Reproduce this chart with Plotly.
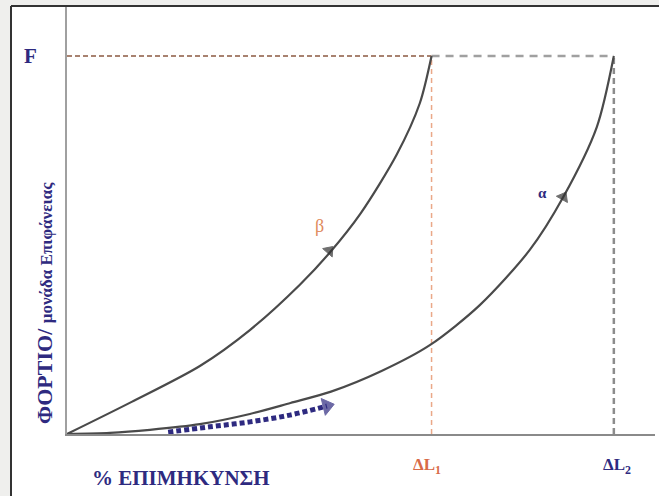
import plotly.graph_objects as go

# ---- data (abstract units: x = % elongation, y = load / F) ----
beta_x = [0, 11, 22.6, 31.1, 39.6, 44.7, 50, 56.1, 60.0, 62]
beta_y = [0, 0.085, 0.18, 0.275, 0.395, 0.48, 0.585, 0.74, 0.875, 1.0]

alpha_x = [0, 7.3, 14.1, 22.6, 31.1, 38.0, 44.9, 53.4, 61.7, 70.2, 78.7, 84.4, 90.1, 93]
alpha_y = [0, 0.003, 0.011, 0.026, 0.053, 0.082, 0.112, 0.166, 0.235, 0.341, 0.487, 0.627, 0.812, 1.0]

hint_x = [17.2, 24.3, 31.1, 37.9, 44.2]
hint_y = [0.005, 0.019, 0.032, 0.050, 0.074]

F_level = 1.0
dL1 = 62
dL2 = 93

beta_arrow_x = [43.2, 44.6]
beta_arrow_y = [0.46, 0.485]
alpha_arrow_x = [83.6, 84.4]
alpha_arrow_y = [0.605, 0.627]

NAVY = "#2e2a80"
ORANGE = "#e08a5c"
SERIF = "Liberation Serif, Times New Roman, serif"

fig = go.Figure()

# reference dashed lines
fig.add_trace(go.Scatter(x=[0, dL1], y=[F_level, F_level], mode="lines",
                         line=dict(color="#a88270", width=2, dash="5px,3px"),
                         hoverinfo="skip", showlegend=False))
fig.add_trace(go.Scatter(x=[dL1, dL2], y=[F_level, F_level], mode="lines",
                         line=dict(color="#a0a0a0", width=2.5, dash="8px,6px"),
                         hoverinfo="skip", showlegend=False))
fig.add_trace(go.Scatter(x=[dL1, dL1], y=[0, F_level], mode="lines",
                         line=dict(color="#eaa888", width=1.5, dash="5px,4px"),
                         hoverinfo="skip", showlegend=False))
fig.add_trace(go.Scatter(x=[dL2, dL2], y=[0, F_level], mode="lines",
                         line=dict(color="#8c8c8c", width=2.5, dash="6px,4px"),
                         hoverinfo="skip", showlegend=False))

# curves
fig.add_trace(go.Scatter(x=beta_x, y=beta_y, mode="lines", line_shape="spline",
                         line=dict(color="#4a4a4a", width=2.2, smoothing=0.8), showlegend=False))
fig.add_trace(go.Scatter(x=alpha_x, y=alpha_y, mode="lines", line_shape="spline",
                         line=dict(color="#4a4a4a", width=2.2, smoothing=0.8), showlegend=False))

# direction arrowheads on curves
for ax_, ay_ in [(beta_arrow_x, beta_arrow_y), (alpha_arrow_x, alpha_arrow_y)]:
    fig.add_trace(go.Scatter(x=ax_, y=ay_, mode="markers",
                             marker=dict(symbol="triangle-up", size=[0, 11], color="#333333",
                                         angleref="previous",
                                         line=dict(color="#333333", width=1)),
                             showlegend=False, hoverinfo="skip"))

# dotted navy hint arrow
fig.add_trace(go.Scatter(x=hint_x, y=hint_y, mode="lines", line_shape="spline",
                         line=dict(color=NAVY, width=5, dash="5px,3px"),
                         showlegend=False, hoverinfo="skip"))
fig.add_trace(go.Scatter(x=hint_x[-2:], y=hint_y[-2:], mode="markers",
                         marker=dict(symbol="triangle-up", size=[0, 15], color=NAVY,
                                     angleref="previous", line=dict(color=NAVY, width=1)),
                         showlegend=False, hoverinfo="skip"))

# labels
fig.add_annotation(xref="paper", yref="y", x=30/659, y=F_level, text="<b>F</b>", showarrow=False,
                   xanchor="center", yanchor="middle",
                   font=dict(family=SERIF, size=21, color=NAVY))
fig.add_annotation(x=43.0, y=0.55, text="β", showarrow=False,
                   xanchor="center", yanchor="middle",
                   font=dict(family=SERIF, size=18, color=ORANGE))
fig.add_annotation(x=80.8, y=0.638, text="<b>α</b>", showarrow=False,
                   xanchor="center", yanchor="middle",
                   font=dict(family=SERIF, size=15, color=NAVY))
fig.add_annotation(xref="x", yref="paper", x=dL1 - 0.8, y=1 - 466/496,
                   text="<b>ΔL<sub>1</sub></b>", showarrow=False,
                   xanchor="center", yanchor="middle",
                   font=dict(family=SERIF, size=17, color="#d86a48"))
fig.add_annotation(xref="x", yref="paper", x=dL2 + 0.5, y=1 - 466/496,
                   text="<b>ΔL<sub>2</sub></b>", showarrow=False,
                   xanchor="center", yanchor="middle",
                   font=dict(family=SERIF, size=17, color=NAVY))

fig.add_annotation(xref="paper", yref="paper", x=181/659, y=1 - 478/496,
                   text="<b>% ΕΠΙΜΗΚΥΝΣΗ</b>", showarrow=False,
                   xanchor="center", yanchor="middle",
                   font=dict(family=SERIF, size=21, color=NAVY))
fig.add_annotation(xref="paper", yref="paper", x=44/659, y=1 - 303/496, textangle=-90,
                   text="<b>ΦΟΡΤΙΟ/ <span style='font-size:17px'>μονάδα Επιφάνειας</span></b>",
                   showarrow=False, xanchor="center", yanchor="middle",
                   font=dict(family=SERIF, size=22, color=NAVY))

# frame: grey surround, white panel with dark left/top edges
fig.add_shape(type="rect", xref="paper", yref="paper", x0=11/659, x1=1.01, y0=-0.01, y1=1-6/496,
              fillcolor="white", line=dict(width=0), layer="below")
fig.add_shape(type="line", xref="paper", yref="paper", x0=11/659, x1=11/659, y0=-0.01, y1=1-6/496,
              line=dict(color="#333333", width=2), layer="below")
fig.add_shape(type="line", xref="paper", yref="paper", x0=11/659, x1=1.01, y0=1-6/496, y1=1-6/496,
              line=dict(color="#333333", width=2), layer="below")

fig.update_layout(
    width=659, height=496,
    margin=dict(l=0, r=0, t=0, b=0),
    paper_bgcolor="#efefed", plot_bgcolor="rgba(0,0,0,0)",
    xaxis=dict(domain=[67/659, 655/659], range=[0, 100], showgrid=False, zeroline=False,
               showticklabels=False, ticks="", showline=True, linecolor="#8a8a8a", linewidth=2,
               fixedrange=True),
    yaxis=dict(domain=[62/496, 489/496], range=[0, 427/378], showgrid=False, zeroline=False,
               showticklabels=False, ticks="", showline=True, linecolor="#a0a0a0", linewidth=2,
               fixedrange=True),
)

fig.write_html("out.html", config={"displayModeBar": False},
               post_script="document.body.style.margin='0';document.body.style.overflow='hidden';")
